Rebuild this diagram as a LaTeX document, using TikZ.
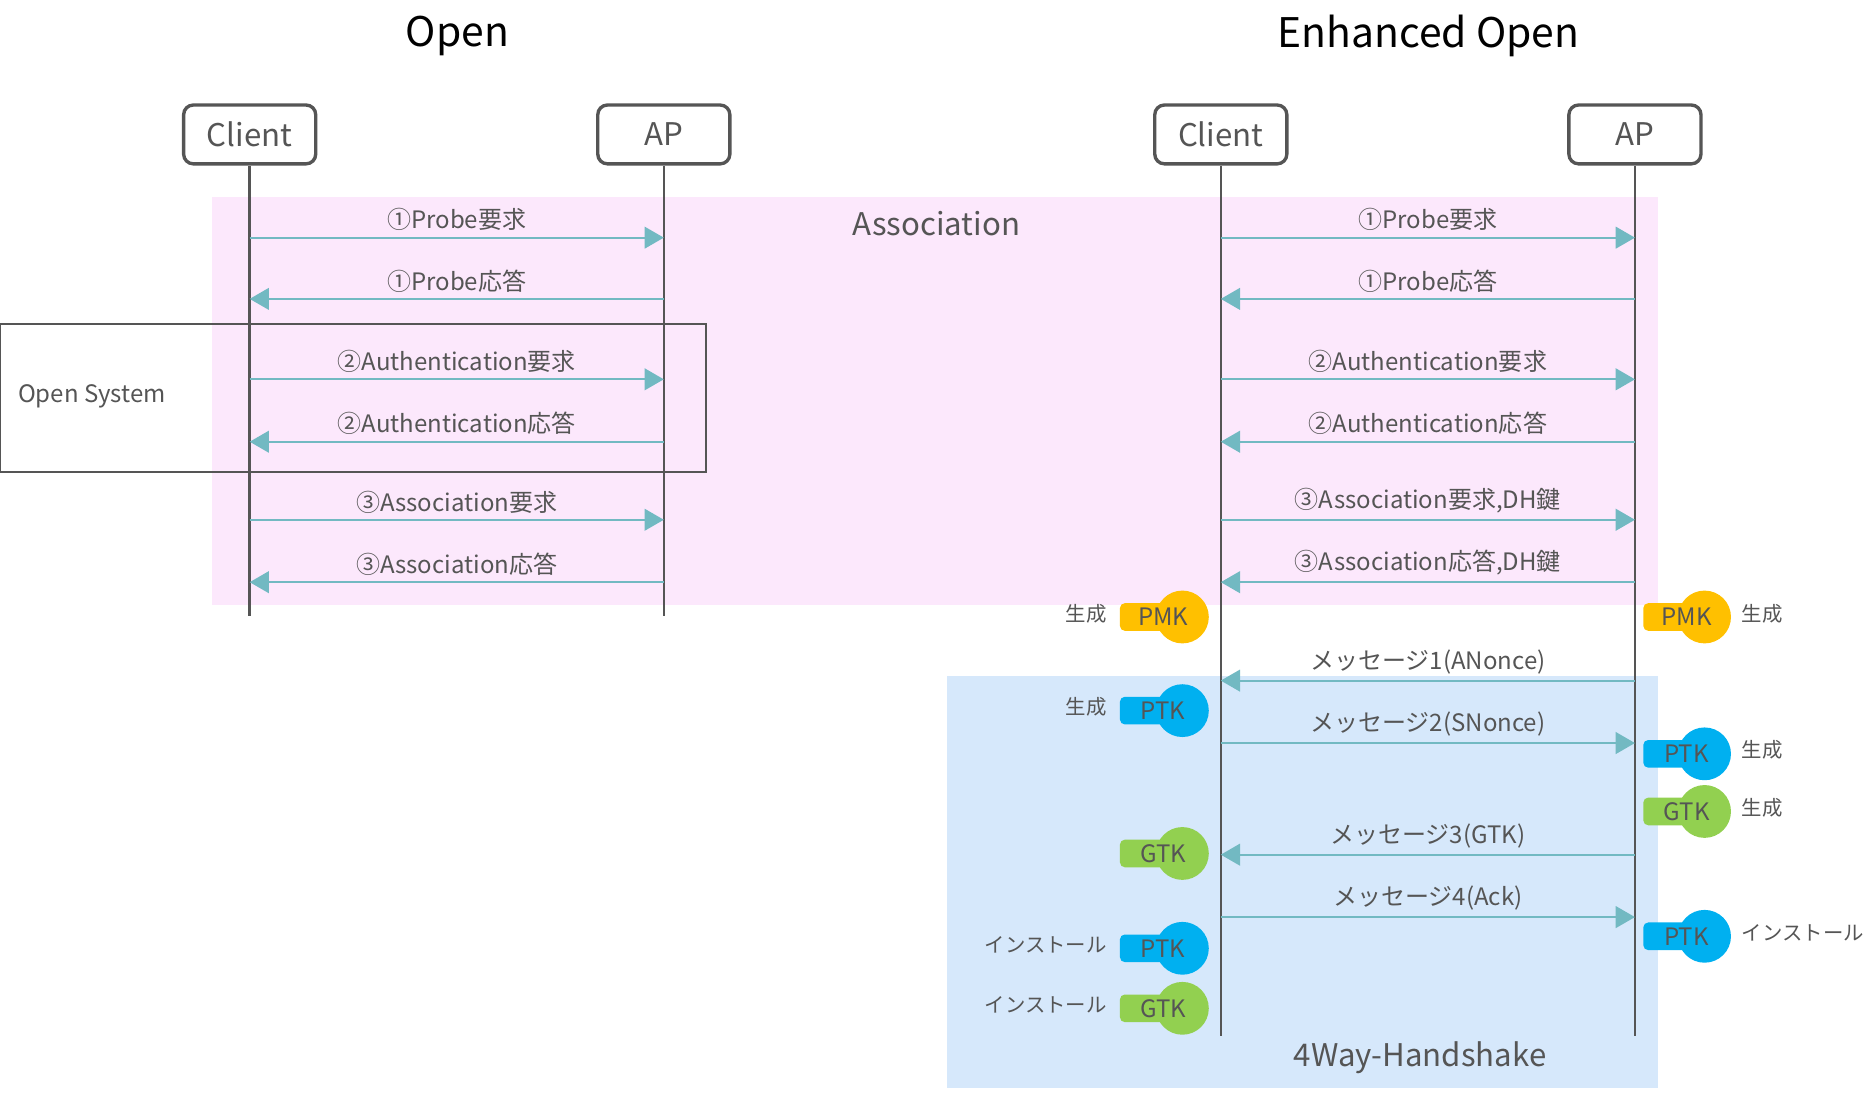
\documentclass[tikz,border=0pt]{standalone}
\usepackage{fontspec}
\setmainfont{Noto Sans CJK JP}
\usetikzlibrary{arrows.meta}
\definecolor{pinkbg}{HTML}{FCE8FC}
\definecolor{bluebg}{HTML}{D6E8FB}
\definecolor{msg}{HTML}{72B9C2}
\definecolor{ln}{HTML}{555555}
\definecolor{pmk}{HTML}{FFC000}
\definecolor{ptk}{HTML}{00B0F0}
\definecolor{gtk}{HTML}{92D050}
\tikzset{
  ent/.style={draw=ln,line width=1.4pt,rounded corners=4pt,minimum width=55pt,minimum height=24.5pt,font=\fontsize{13}{15}\selectfont,text=ln},
  life/.style={ln,line width=1pt},
  m/.style={msg,line width=0.9pt,-{Triangle[length=8pt,width=9pt]}},
  lab/.style={font=\fontsize{10}{12}\selectfont,text=ln},
  side/.style={font=\fontsize{8.5}{10}\selectfont,text=ln},
  keyc/.style={circle,fill=#1,minimum size=22pt,inner sep=0pt},
  keyr/.style={fill=#1,rounded corners=2pt,minimum width=30pt,minimum height=11.5pt,inner sep=0pt,font=\fontsize{10}{12}\selectfont,text=ln},
}
\begin{document}
\begin{tikzpicture}[x=0.5pt,y=-0.5pt]
  \useasboundingbox (0,0) rectangle (1562,913);
  %% backgrounds
  \fill[pinkbg] (177,164) rectangle (1381,504);
  \fill[bluebg] (789,563) rectangle (1381,906);
  \node[font=\fontsize{13}{15}\selectfont,text=ln] (assoc) at (780,186) {Association};
  \node[font=\fontsize{13}{15}\selectfont,text=ln] (hs) at (1183,881) {4Way-Handshake};
  %% titles
  \node[font=\fontsize{17}{20}\selectfont] (t1) at (381,30) {Open};
  \node[font=\fontsize{17}{20}\selectfont] (t2) at (1190,30) {Enhanced Open};
  %% entities
  \node[ent] (c1) at (208,112) {Client};
  \node[ent] (a1) at (553,112) {AP};
  \node[ent] (c2) at (1017,112) {Client};
  \node[ent] (a2) at (1362,112) {AP};
  \coordinate (c1e) at (208,513);
  \coordinate (a1e) at (553,513);
  \coordinate (c2e) at (1017,863);
  \coordinate (a2e) at (1362,863);
  \draw[life] (c1) -- (c1e);
  \draw[life] (a1) -- (a1e);
  \draw[life] (c2) -- (c2e);
  \draw[life] (a2) -- (a2e);
  %% open system box
  \draw[ln,line width=0.9pt] (0,270) rectangle (588,393);
  \node[lab,anchor=west] (os) at (8,330) {Open System};
  %% messages
  \foreach \y/\d/\t [count=\i] in {198/r/①Probe要求,249/l/①Probe応答,316/r/②Authentication要求,368/l/②Authentication応答,433/r/③Association要求,485/l/③Association応答}{
    \coordinate (l\i) at (208,\y);
    \coordinate (r\i) at (553,\y);
    \if r\d \draw[m] (l\i) -- node[lab,above,yshift=-1pt]{\t} (r\i);
    \else \draw[m] (r\i) -- node[lab,above,yshift=-1pt]{\t} (l\i); \fi
  }
  \foreach \y/\d/\t [count=\i] in {198/r/①Probe要求,249/l/①Probe応答,316/r/②Authentication要求,368/l/②Authentication応答,433/r/{③Association要求,DH鍵},485/l/{③Association応答,DH鍵},567/l/メッセージ1(ANonce),619/r/メッセージ2(SNonce),712/l/メッセージ3(GTK),764/r/メッセージ4(Ack)}{
    \coordinate (L\i) at (1017,\y);
    \coordinate (R\i) at (1362,\y);
    \if r\d \draw[m] (L\i) -- node[lab,above,yshift=-1pt]{\t} (R\i);
    \else \draw[m] (R\i) -- node[lab,above,yshift=-1pt]{\t} (L\i); \fi
  }
  %% keys, client side
  \foreach \y/\c/\k/\s [count=\i] in {514/pmk/PMK/生成,592/ptk/PTK/生成,711/gtk/GTK/,790/ptk/PTK/インストール,840/gtk/GTK/インストール}{
    \node[keyc=\c] (kc\i) at (985,\y) {};
    \node[keyr=\c] (kr\i) at (963,\y) {\hspace*{6pt}\k};
    \node[side,anchor=east] (ks\i) at (929,\y-3) {\s};
  }
  %% keys, AP side
  \foreach \y/\c/\k/\s [count=\i] in {514/pmk/PMK/生成,628/ptk/PTK/生成,676/gtk/GTK/生成,780/ptk/PTK/インストール}{
    \node[keyc=\c] (Kc\i) at (1420,\y) {};
    \node[keyr=\c] (Kr\i) at (1399,\y) {\hspace*{6pt}\k};
    \node[side,anchor=west] (Ks\i) at (1444,\y-3) {\s};
  }
\end{tikzpicture}
\end{document}
